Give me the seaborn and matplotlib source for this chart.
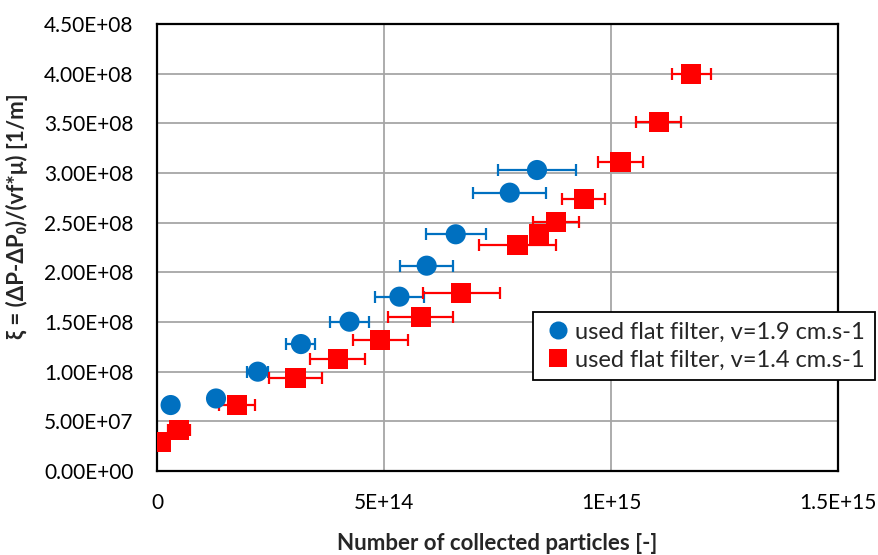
import numpy as np
import pandas as pd
import matplotlib
matplotlib.use("Agg")
import matplotlib.pyplot as plt
import seaborn as sns
from matplotlib.ticker import FuncFormatter, MultipleLocator

# ---- data ----
blue_label = "used flat filter, v=1.9 cm.s-1"
red_label = "used flat filter, v=1.4 cm.s-1"

blue_x = [0.030e15, 0.130e15, 0.222e15, 0.317e15, 0.424e15, 0.534e15, 0.594e15, 0.658e15, 0.777e15, 0.837e15]
blue_y = [66.4e6, 73.0e6, 100.0e6, 127.8e6, 150.3e6, 175.5e6, 206.7e6, 238.3e6, 280.2e6, 303.0e6]
blue_xerr = [0.0, 0.004e15, 0.023e15, 0.032e15, 0.043e15, 0.054e15, 0.059e15, 0.066e15, 0.080e15, 0.086e15]

red_x = [0.009e15, 0.049e15, 0.176e15, 0.305e15, 0.398e15, 0.492e15, 0.581e15, 0.670e15, 0.794e15, 0.842e15, 0.879e15, 0.940e15, 1.021e15, 1.105e15, 1.177e15]
red_y = [28.9e6, 41.3e6, 66.4e6, 94.0e6, 112.7e6, 131.5e6, 154.7e6, 179.5e6, 227.5e6, 238.3e6, 251.0e6, 273.8e6, 311.4e6, 351.6e6, 399.7e6]
red_xerr = [0.0, 0.024e15, 0.039e15, 0.058e15, 0.060e15, 0.060e15, 0.072e15, 0.085e15, 0.085e15, 0.015e15, 0.050e15, 0.047e15, 0.049e15, 0.049e15, 0.043e15]

x_ticks = [0, 5e14, 1e15, 1.5e15]
x_tick_labels = ["0", "5E+14", "1E+15", "1.5E+15"]

BLUE = "#0070C0"
RED = "#FF0000"

df = pd.DataFrame({
    "x": blue_x + red_x,
    "y": blue_y + red_y,
    "series": [blue_label] * len(blue_x) + [red_label] * len(red_x),
})

sns.set_theme(style="white")
plt.rcParams["font.family"] = ["Lato", "DejaVu Sans"]

fig = plt.figure(figsize=(8.79, 5.55), dpi=100)
ax = fig.add_axes([157 / 879, 1 - 471 / 555, (838 - 157) / 879, (471 - 24) / 555])

# error bars
ax.errorbar(blue_x, blue_y, xerr=blue_xerr, fmt="none", ecolor=BLUE, elinewidth=1.6,
            capsize=4.5, capthick=1.6, zorder=2)
ax.errorbar(red_x, red_y, xerr=red_xerr, fmt="none", ecolor=RED, elinewidth=1.6,
            capsize=4.5, capthick=1.6, zorder=2)

sns.scatterplot(data=df, x="x", y="y", hue="series", style="series",
                palette={blue_label: BLUE, red_label: RED},
                markers={blue_label: "o", red_label: "s"},
                s=210, linewidth=0, ax=ax, zorder=3, legend=True)

ax.set_xlim(0, 1.5e15)
ax.set_ylim(0, 4.5e8)
ax.set_xticks(x_ticks)
ax.set_xticklabels(x_tick_labels)
ax.yaxis.set_major_locator(MultipleLocator(5e7))
ax.yaxis.set_major_formatter(FuncFormatter(lambda v, p: "%.2E" % v))

ax.grid(True, color="#A6A6A6", linewidth=1.3)
ax.set_axisbelow(True)
for s in ax.spines.values():
    s.set_color("black")
    s.set_linewidth(1.6)

ax.tick_params(axis="both", labelsize=15, length=0, colors="black")
ax.tick_params(axis="x", pad=16)
ax.tick_params(axis="y", pad=17)

ax.set_xlabel("Number of collected particles [-]", fontsize=16, fontweight="bold")
ax.xaxis.set_label_coords(0.5, -0.162)
ax.xaxis.label.set_va("center")
ax.set_ylabel("ξ = (ΔP-ΔP₀)/(vf*μ) [1/m]", fontsize=16, fontweight="bold")
ax.yaxis.set_label_coords(-0.19, 0.57)

handles, labels = ax.get_legend_handles_labels()
for h in handles:
    h.set_markersize(13)
leg = fig.legend(handles, labels, loc="upper left", bbox_to_anchor=(533 / 879, 1 - 312 / 555),
                 fontsize=17, frameon=True, fancybox=False, framealpha=1,
                 edgecolor="black", handletextpad=0.1, handlelength=1.3,
                 borderpad=0.4, labelspacing=0.3, borderaxespad=0)
leg.get_frame().set_linewidth(1.3)
if ax.get_legend():
    ax.get_legend().remove()

fig.savefig("out.png", dpi=100)
